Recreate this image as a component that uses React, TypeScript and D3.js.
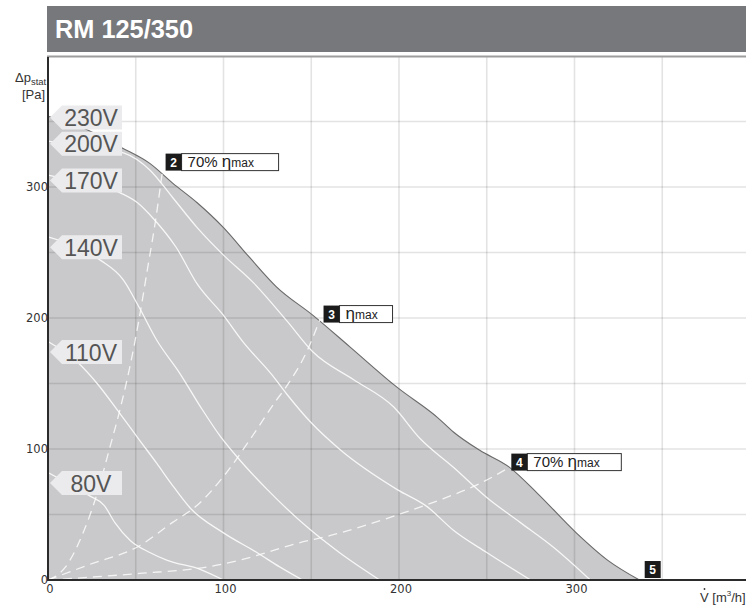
import React from "react";
import * as d3 from "d3";

// fan curve RM 125/350 : static pressure [Pa] vs air flow [m3/h]
const title = "RM 125/350";
const flowTicks = [0, 100, 200, 300];
const pressureTicks = [0, 100, 200, 300];
const gridValues = [0, 50, 100, 150, 200, 250, 300, 350, 400];

// [flow, pressure]
const curve230 = [
  [0, 354], [20, 345], [42, 330], [58, 318], [71, 303], [85, 288], [100, 269],
  [115, 246], [130, 224], [151, 202], [172, 178], [199, 147], [222, 124],
  [231, 113], [246, 99], [263, 86], [279, 66], [301, 36], [319, 15], [337, 0],
];
const curve200 = [
  [0, 335], [20, 331], [43, 326], [58, 313], [71, 292], [85, 269], [100, 248],
  [117, 227], [136, 198], [151, 174], [174, 153], [197, 132], [212, 108],
  [231, 86], [250, 63], [269, 44], [288, 25], [309, 0],
];
const curve170 = [
  [0, 309], [20, 303], [42, 295], [51, 288], [60, 276], [73, 254], [85, 226],
  [100, 202], [111, 182], [128, 156], [136, 142], [150, 120], [166, 100],
  [199, 69], [216, 56], [231, 38], [250, 21], [275, 0],
];
const curve140 = [
  [0, 262], [15, 255], [30, 244], [43, 229], [52, 208], [62, 183], [75, 158],
  [87, 132], [98, 110], [109, 92], [125, 69], [148, 40], [166, 21], [189, 0],
];
const curve110 = [
  [0, 182], [17, 166], [28, 150], [41, 127], [52, 107], [62, 89], [70, 74],
  [81, 55], [100, 36], [119, 21], [132, 10], [145, 0],
];
const curve80 = [
  [0, 82], [15, 71], [24, 64], [32, 57], [38, 44], [47, 30], [58, 21],
  [68, 15], [87, 8], [100, 0],
];
const voltageCurves = [curve200, curve170, curve140, curve110, curve80];

const voltageLabels = ["230V", "200V", "170V", "140V", "110V", "80V"];
const voltageLabelP = [353, 333, 305, 254, 174, 74];

// system lines through the efficiency points
const eta70Low = [
  [0, 0], [10, 10], [20, 36], [28, 66], [35, 100], [41, 130], [47, 165],
  [52, 200], [57, 240], [61, 272], [65, 310],
];
const etaMax = [
  [0, 0], [24, 12], [52, 26], [71, 44], [85, 57], [100, 79], [115, 107],
  [130, 137], [136, 148], [148, 176], [155, 199],
];
const eta70High = [
  [0, 0], [52, 5], [91, 10], [109, 15], [122, 20], [142, 28], [161, 34],
  [179, 41], [202, 51], [225, 62], [245, 73], [263, 86],
];
const systemLines = [eta70Low, etaMax, eta70High];

const markerIds = ["2", "3", "4", "5"];
const markerQ = [67, 157, 264, 340];
const markerP = [319, 203, 90, 8];
const markerPct = ["70%", "", "70%", null];
const markerBoxW = [97, 53, 94, 0];

export default function App() {
  const x = d3.scaleLinear().domain([0, 400]).range([48, 750]);
  const y = d3.scaleLinear().domain([0, 400]).range([580, 56]);

  const line = d3
    .line<number[]>()
    .x((d) => x(d[0]))
    .y((d) => y(d[1]))
    .curve(d3.curveMonotoneX);
  const area = d3
    .area<number[]>()
    .x((d) => x(d[0]))
    .y0(y(0))
    .y1((d) => y(d[1]))
    .curve(d3.curveMonotoneX);

  const font = "'Liberation Sans', Arial, sans-serif";

  return (
    <svg
      width={746}
      height={608}
      style={{ position: "absolute", left: 0, top: 0, display: "block" }}
      fontFamily={font}
    >
      <defs>
        <clipPath id="plot">
          <rect x={48} y={56} width={700} height={524} />
        </clipPath>
      </defs>
      <rect width={746} height={608} fill="#fff" />

      <g clipPath="url(#plot)">
        <path d={area(curve230) || ""} fill="#c9c9cb" />
        {gridValues.map((v) => (
          <line
            key={"gx" + v}
            x1={x(v)}
            x2={x(v)}
            y1={56}
            y2={580}
            stroke="rgba(0,0,0,0.11)"
            strokeWidth={1.6}
          />
        ))}
        {gridValues.map((v) => (
          <line
            key={"gy" + v}
            x1={48}
            x2={750}
            y1={y(v)}
            y2={y(v)}
            stroke="rgba(0,0,0,0.11)"
            strokeWidth={1.6}
          />
        ))}
        <path d={line(curve230) || ""} fill="none" stroke="#6a6a6a" strokeWidth={1.1} />
        {voltageCurves.map((c, i) => (
          <path
            key={"v" + i}
            d={line(c) || ""}
            fill="none"
            stroke="#fff"
            strokeOpacity={0.85}
            strokeWidth={1.3}
          />
        ))}
        {systemLines.map((c, i) => (
          <path
            key={"s" + i}
            d={line(c) || ""}
            fill="none"
            stroke="#fff"
            strokeOpacity={0.8}
            strokeWidth={1.3}
            strokeDasharray="9 6"
          />
        ))}
      </g>

      {/* frame */}
      <line x1={47} x2={746} y1={56.5} y2={56.5} stroke="#9d9d9f" strokeWidth={2} />
      <line x1={48} x2={48} y1={57} y2={581} stroke="#2b2b2b" strokeWidth={2} />
      <line x1={47} x2={746} y1={580} y2={580} stroke="#2b2b2b" strokeWidth={2} />

      {/* ticks */}
      {pressureTicks.map((t) => (
        <text
          key={"yt" + t}
          x={48}
          y={y(t) + 4}
          textAnchor="end"
          fontSize={11.5}
          fontFamily="'DejaVu Sans', sans-serif"
          fill="#333"
        >
          {t}
        </text>
      ))}
      {flowTicks.map((t) => (
        <text
          key={"xt" + t}
          x={x(t) + 2}
          y={593}
          textAnchor="middle"
          fontSize={11.5}
          fontFamily="'DejaVu Sans', sans-serif"
          fill="#333"
        >
          {t}
        </text>
      ))}

      {/* axis titles */}
      <text x={15} y={82} fontSize={13} fill="#333">
        Δp<tspan fontSize={9.5} dy={3}>stat</tspan>
      </text>
      <text x={22} y={99} fontSize={13} fill="#333">
        [Pa]
      </text>
      <text x={700} y={602} fontSize={13} fill="#333">
        V [m<tspan fontSize={8} dy={-6}>3</tspan>
        <tspan dy={6}>/h]</tspan>
      </text>
      <circle cx={704.5} cy={589} r={0.9} fill="#333" />

      {/* voltage labels */}
      {voltageLabels.map((lab, i) => {
        const ty = y(voltageLabelP[i]);
        const tip = 50;
        return (
          <g key={lab}>
            <path
              d={`M${tip},${ty} L${tip + 12},${ty - 12} L122,${ty - 12} L122,${ty + 12} L${tip + 12},${ty + 12} Z`}
              fill="#ebebed"
            />
            <text x={91} y={ty + 8.5} textAnchor="middle" fontSize={23} fill="#555">
              {lab}
            </text>
          </g>
        );
      })}

      {/* efficiency markers */}
      {markerIds.map((id, i) => {
        const bx = x(markerQ[i]);
        const cy = y(markerP[i]);
        const pct = markerPct[i];
        return (
          <g key={"m" + id}>
            {markerBoxW[i] > 0 && (
              <rect
                x={bx + 16}
                y={cy - 8.5}
                width={markerBoxW[i]}
                height={17}
                fill="#fff"
                stroke="#333"
                strokeWidth={1}
              />
            )}
            <rect x={bx} y={cy - 8.5} width={16} height={17} fill="#1b1b1b" />
            <text
              x={bx + 8}
              y={cy + 4.5}
              textAnchor="middle"
              fontSize={12}
              fontWeight="bold"
              fill="#fff"
            >
              {id}
            </text>
            {pct !== null && (
              <text x={bx + 22} y={cy + 5} fontSize={15} fill="#222">
                {pct ? pct + " " : ""}
                <tspan fontSize={17}>η</tspan>
                <tspan fontSize={12}>max</tspan>
              </text>
            )}
          </g>
        );
      })}

      {/* title bar */}
      <rect x={47} y={6} width={699} height={46} fill="#77787b" />
      <text
        x={55}
        y={37.5}
        fontSize={25}
        fontWeight="bold"
        fill="#fff"
        textLength={138}
        lengthAdjust="spacingAndGlyphs"
      >
        {title}
      </text>
    </svg>
  );
}
